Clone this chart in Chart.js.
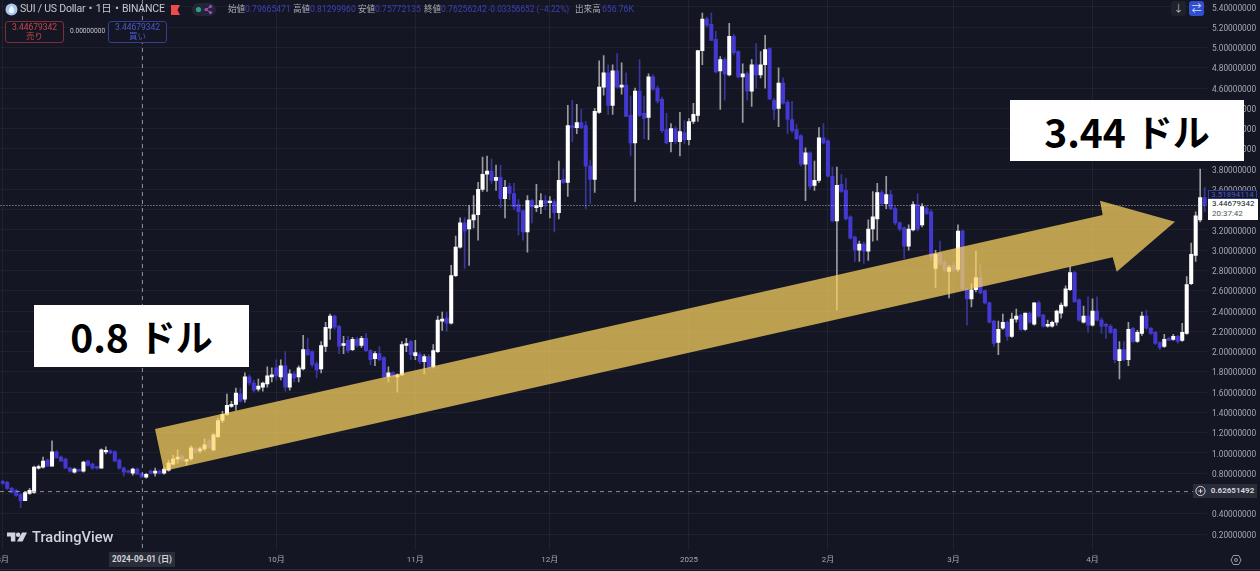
<!DOCTYPE html>
<html lang="ja">
<head>
<meta charset="UTF-8" />
<title>SUI / US Dollar</title>
<script src="https://cdn.jsdelivr.net/npm/chart.js"></script>
<style>
    html, body { margin: 0; padding: 0; background: #141723; overflow: hidden; }
    #wrap { position: relative; width: 1260px; height: 571px; font-family: Roboto, "Noto Sans CJK JP", sans-serif; }
    #chart { display: block; position: absolute; left: 0; top: 0; }
    .t { position: absolute; white-space: nowrap; line-height: 1; }
    .title { left: 20px; top: 4px; font-size: 10.5px; letter-spacing: -.2px; color: #c4c7d0; }
    .ohlc { top: 5px; font-size: 8.6px; color: #3f3fb8; }
    .ohlc.k { color: #a9acb6; }
    .order { position: absolute; top: 21px; width: 59px; height: 22px; border-radius: 3px; text-align: center; font-size: 8.5px; line-height: 9px; box-sizing: border-box; padding-top: 1px; background: #141723; }
    .order.sell { left: 5px; border: 1px solid #7e2f36; color: #c8434c; }
    .order.buy { left: 108px; border: 1px solid #33408f; color: #4a58c8; }
    .spread { left: 70px; top: 28px; font-size: 6.6px; color: #c4c7d0; }
    .note { position: absolute; background: #fff; color: #000; font-family: "Noto Sans CJK JP", sans-serif; font-weight: 700; font-size: 39px; display: flex; align-items: center; justify-content: center; }
    .note span { margin-left: 10px; font-size: 37px; }
    .tv { left: 32px; top: 530px; font-size: 14.6px; font-weight: 500; color: #d1d4dc; }
    .xlabel { position: absolute; left: 109px; top: 552px; width: 66px; height: 15px; background: #2a2e39; color: #d1d4dc; font-size: 8.2px; font-weight: 700; text-align: center; line-height: 15px; }
    .plabel { position: absolute; left: 1208px; top: 484px; width: 49px; height: 14px; background: #2a2e39; color: #d1d4dc; font-size: 8px; font-weight: 700; text-align: center; line-height: 14px; }
    .plus { position: absolute; left: 1193px; top: 484px; width: 15px; height: 14px; background: #2a2e39; }
    .last { position: absolute; left: 1208px; top: 190px; width: 49px; height: 9px; background: #141723; border: 1px solid #33408f; box-sizing: border-box; color: #4a58c8; font-size: 8px; text-align: center; line-height: 8px; }
    .now { position: absolute; left: 1208px; top: 199px; width: 50px; height: 21px; background: #fff; color: #131722; font-size: 8px; padding-left: 4px; box-sizing: border-box; line-height: 10px; }
    .now div + div { color: #50535e; }
    .btn { position: absolute; top: 1px; width: 15px; height: 15px; border-radius: 3px; color: #b2b5be; font-size: 10px; text-align: center; line-height: 15px; }
    .bottomline { position: absolute; left: 0; top: 569px; width: 1260px; height: 1px; background: #2a2e39; }
</style>
</head>
<body>
<div id="wrap">
    <canvas id="chart" width="1260" height="571"></canvas>

    <!-- header -->
    <svg style="position:absolute;left:5px;top:3px" width="13" height="13" viewBox="0 0 13 13"><circle cx="6.5" cy="6.5" r="6" fill="#a9c6ee"/><path d="M6.5 2.5 C8 4.5 9.2 6 9.2 7.6 A2.7 2.7 0 0 1 3.8 7.6 C3.8 6 5 4.5 6.5 2.5Z" fill="#f2f6fc"/></svg>
    <div class="t title">SUI / US Dollar・1日・BINANCE</div>
    <svg style="position:absolute;left:171px;top:5px" width="9" height="10" viewBox="0 0 9 10"><path d="M0 0H9L6.5 5 9 10H0Z" fill="#f04a4f"/></svg>
    <div style="position:absolute;left:192px;top:3px;width:24px;height:13px;border-radius:7px;background:#232735"></div>
    <svg style="position:absolute;left:194px;top:4px" width="20" height="11" viewBox="0 0 20 11"><circle cx="4.5" cy="5.5" r="2.6" fill="#2f9e8f"/><circle cx="12" cy="5.5" r="1.6" fill="#9c4fc4"/><circle cx="16.5" cy="2.5" r="1.6" fill="#9c4fc4"/><circle cx="16.5" cy="8.5" r="1.6" fill="#9c4fc4"/><path d="M12 5.5L16.5 2.5M12 5.5L16.5 8.5" stroke="#9c4fc4"/></svg>

    <div class="t ohlc k" style="left:228px">始値</div><div class="t ohlc" style="left:245px">0.79665471</div>
    <div class="t ohlc k" style="left:293px">高値</div><div class="t ohlc" style="left:310px">0.81299960</div>
    <div class="t ohlc k" style="left:358px">安値</div><div class="t ohlc" style="left:375px">0.75772135</div>
    <div class="t ohlc k" style="left:424px">終値</div><div class="t ohlc" style="left:441px">0.76256242</div>
    <div class="t ohlc" style="left:488px;font-size:8.3px">-0.03356652 (−4.22%)</div>
    <div class="t ohlc k" style="left:575px">出来高</div><div class="t ohlc" style="left:602px">656.76K</div>

    <div class="order sell">3.44679342<br>売り</div>
    <div class="t spread">0.00000000</div>
    <div class="order buy">3.44679342<br>買い</div>

    <div class="btn" style="left:1171px;background:#1e222d">↓</div>
    <div class="btn" style="left:1189px;background:#2f4fd0;color:#d6dcf5">⇄</div>

    <!-- notes on top of the chart -->
    <div class="note" style="left:34px;top:305px;width:215px;height:62px">0.8<span>ドル</span></div>
    <div class="note" style="left:1010px;top:100px;width:234px;height:61px">3.44<span>ドル</span></div>

    <!-- labels on the axes -->
    <div class="last">3.51894114</div>
    <div class="now"><div>3.44679342</div><div>20:37:42</div></div>
    <div class="plus"></div>
    <svg style="position:absolute;left:1194px;top:485px" width="13" height="13" viewBox="0 0 13 13"><circle cx="6.5" cy="6" r="4.6" fill="none" stroke="#d1d4dc"/><path d="M4.3 6H8.7M6.5 3.8V8.2" stroke="#d1d4dc"/></svg>
    <div class="plabel">0.62651492</div>
    <div class="xlabel">2024-09-01 (日)</div>
    <svg style="position:absolute;left:1230px;top:554px" width="12" height="12" viewBox="0 0 12 12"><path d="M3.3 1.5H8.7L11 6 8.7 10.5H3.3L1 6Z" fill="none" stroke="#9a9da8"/><circle cx="6" cy="6" r="1.5" fill="none" stroke="#9a9da8"/></svg>

    <svg style="position:absolute;left:7px;top:532px" width="20" height="10" viewBox="0 0 36 18"><path d="M0 1H15V17H7V8H0Z" fill="#d1d4dc"/><circle cx="20" cy="5" r="4" fill="#d1d4dc"/><path d="M27 1H36L28 17H18Z" fill="#d1d4dc"/></svg>
    <div class="t tv">TradingView</div>
    <div class="bottomline"></div>
</div>

<script>
    // daily candles from 2024-08-01
    const firstDay = '2024-08-01';

    const opens = [
        .72,.71,.65,.63,.59,.53,.60,.61,.85,.86,
        .93,.87,1.01,.96,.94,.85,.81,.83,.82,.92,
        .89,.86,.85,1.01,1.02,1.01,.93,.85,.82,.80,
        .84,.80,.76,.82,.80,.82,.80,.83,.89,.94,
        .97,.92,.94,1.04,1.02,1.04,1.12,1.03,1.16,1.32,
        1.38,1.46,1.48,1.58,1.53,1.75,1.69,1.63,1.65,1.68,
        1.75,1.84,1.75,1.86,1.65,1.78,1.75,1.83,2.02,2.00,
        1.88,1.83,2.05,2.23,2.35,2.25,2.06,2.11,2.02,2.12,
        2.06,2.13,2.01,1.93,1.98,1.94,1.75,1.79,1.75,1.77,
        2.06,2.10,1.96,1.97,1.90,1.95,1.85,2.00,2.30,2.33,
        2.28,2.75,3.03,3.27,3.21,3.30,3.35,3.60,3.75,3.78,
        3.69,3.72,3.51,3.63,3.56,3.45,3.39,3.18,3.49,3.42,
        3.43,3.49,3.47,3.48,3.37,3.70,3.67,4.23,4.21,4.26,
        4.23,3.83,3.70,4.36,4.61,4.75,4.43,4.77,4.61,4.63,
        4.33,4.06,4.57,4.35,4.31,4.71,4.60,4.49,4.19,4.07,
        4.20,4.07,4.16,4.09,4.27,4.33,4.97,5.28,5.23,5.08,
        4.77,4.88,4.73,5.11,4.96,4.71,4.74,4.57,4.83,4.73,
        4.83,4.99,4.48,4.40,4.65,4.46,4.29,4.19,4.13,3.85,
        3.96,3.64,3.69,4.11,4.08,3.73,3.29,3.65,3.59,3.33,
        3.13,3.00,3.06,2.99,3.21,3.31,3.57,3.46,3.55,3.41,
        3.27,3.22,3.04,3.20,3.45,3.25,3.41,3.38,2.82,2.97,
        2.88,2.79,2.85,2.81,3.19,2.61,2.52,2.61,2.73,2.60,
        2.48,2.30,2.09,2.23,2.29,2.15,2.32,2.36,2.22,2.38,
        2.27,2.48,2.36,2.25,2.25,2.29,2.38,2.45,2.61,2.78,
        2.51,2.29,2.35,2.26,2.40,2.31,2.27,2.25,2.22,1.91,
        2.02,1.92,2.23,2.10,2.18,2.35,2.23,2.19,2.09,2.05,
        2.13,2.12,2.15,2.11,2.18,2.67,2.95,3.30,3.52
    ];
    const highs = [
        .73,.72,.66,.64,.60,.62,.65,.87,.88,.96,
        .94,1.12,1.02,.97,.95,.86,.85,.84,.92,.93,
        .90,.87,1.04,1.06,1.03,1.02,.94,.86,.83,.85,
        .85,.81,.80,.83,.85,.83,.86,.93,.98,1.03,
        .98,.94,1.07,1.05,1.06,1.14,1.13,1.19,1.34,1.41,
        1.58,1.51,1.64,1.64,1.79,1.77,1.72,1.73,1.70,1.85,
        1.84,1.92,1.92,2.00,1.82,1.80,1.86,2.16,2.13,2.01,
        1.90,2.10,2.29,2.37,2.36,2.26,2.15,2.15,2.14,2.14,
        2.15,2.18,2.02,2.00,2.05,1.95,1.85,1.80,1.78,2.10,
        2.13,2.11,2.11,1.99,1.97,1.97,2.07,2.35,2.39,2.39,
        2.85,3.14,3.32,3.32,3.44,3.54,3.67,3.92,3.93,3.90,
        3.84,3.84,3.69,3.66,3.66,3.50,3.40,3.54,3.50,3.65,
        3.56,3.54,3.53,3.50,3.88,3.80,4.43,4.48,4.44,4.39,
        4.27,3.89,4.40,4.87,4.92,4.83,4.83,4.94,4.85,4.75,
        4.52,4.60,4.88,4.52,4.74,4.73,4.62,4.51,4.35,4.25,
        4.22,4.36,4.28,4.30,4.45,4.97,5.34,5.30,5.34,5.16,
        4.91,4.90,5.24,5.13,4.97,4.84,4.76,4.88,5.04,4.96,
        5.12,5.00,4.50,4.80,4.70,4.48,4.47,4.24,4.14,4.01,
        3.97,3.88,4.21,4.25,4.09,3.82,3.82,3.75,3.71,3.34,
        3.14,3.09,3.08,3.30,3.58,3.66,3.59,3.73,3.59,3.43,
        3.28,3.23,3.25,3.48,3.56,3.46,3.44,3.40,3.00,3.09,
        2.90,2.85,2.88,3.25,3.20,2.63,2.67,2.99,2.86,2.61,
        2.49,2.31,2.30,2.37,2.30,2.38,2.42,2.37,2.38,2.39,
        2.48,2.50,2.37,2.31,2.30,2.41,2.48,2.65,2.84,2.79,
        2.52,2.45,2.54,2.52,2.54,2.33,2.28,2.27,2.23,2.10,
        2.10,2.29,2.24,2.21,2.39,2.41,2.24,2.20,2.10,2.17,
        2.14,2.17,2.16,2.28,2.74,3.07,3.38,3.80,3.62
    ];
    const lows = [
        .69,.64,.61,.57,.46,.53,.59,.60,.84,.85,
        .87,.87,.95,.92,.85,.81,.80,.82,.81,.87,
        .84,.84,.85,.99,.99,.92,.84,.77,.80,.78,
        .79,.76,.75,.79,.77,.79,.79,.82,.88,.90,
        .92,.88,.93,1.00,1.00,1.02,1.05,1.02,1.15,1.30,
        1.37,1.45,1.42,1.50,1.50,1.67,1.60,1.61,1.61,1.65,
        1.70,1.72,1.72,1.61,1.62,1.70,1.70,1.82,1.96,1.85,
        1.74,1.79,2.00,2.12,2.22,1.98,1.98,1.99,2.01,2.04,
        2.04,2.00,1.87,1.86,1.91,1.74,1.70,1.75,1.60,1.76,
        2.00,1.92,1.92,1.88,1.78,1.83,1.84,1.99,2.21,2.20,
        2.27,2.74,3.02,2.82,2.85,3.22,3.10,3.58,3.58,3.66,
        3.59,3.42,3.32,3.50,3.40,3.15,3.10,2.98,3.27,3.38,
        3.36,3.40,3.32,3.18,3.31,3.66,3.53,4.07,4.15,4.20,
        3.41,3.46,3.57,4.35,4.53,4.34,4.34,4.60,4.54,4.32,
        3.93,3.48,4.32,4.10,4.09,4.58,4.45,4.16,4.05,3.97,
        4.05,3.93,4.05,4.04,4.25,4.27,4.83,5.20,5.07,4.75,
        4.39,4.48,4.72,4.93,4.70,4.26,4.48,4.42,4.60,4.70,
        4.60,4.49,4.29,4.22,4.44,4.15,4.16,4.09,3.83,3.49,
        3.60,3.59,3.67,4.05,3.72,3.28,2.41,3.57,3.30,3.11,
        2.89,2.89,2.87,2.90,3.09,3.10,3.44,3.41,3.40,3.25,
        3.19,2.92,3.00,3.19,3.19,3.23,3.35,2.90,2.63,2.85,
        2.78,2.53,2.78,2.79,2.61,2.26,2.44,2.59,2.57,2.47,
        2.28,2.05,1.97,2.22,2.11,2.14,2.29,2.21,2.21,2.28,
        2.26,2.34,2.24,2.24,2.24,2.26,2.33,2.44,2.60,2.49,
        2.30,2.28,2.19,2.25,2.30,2.18,2.13,2.18,1.89,1.73,
        1.91,1.86,2.09,2.09,2.16,2.22,2.17,2.07,2.02,2.04,
        2.11,2.11,2.08,2.10,2.17,2.66,2.89,3.28,3.38
    ];
    const closes = [
        .70,.65,.61,.58,.53,.61,.63,.86,.86,.92,
        .87,1.01,.95,.92,.85,.82,.84,.82,.91,.88,
        .85,.85,1.03,1.02,1.00,.92,.85,.81,.81,.84,
        .79,.76,.79,.80,.82,.80,.84,.90,.94,.96,
        .93,.93,1.05,1.00,1.04,1.08,1.05,1.18,1.32,1.38,
        1.47,1.48,1.59,1.51,1.75,1.69,1.62,1.66,1.69,1.76,
        1.77,1.76,1.86,1.65,1.78,1.74,1.84,2.02,1.97,1.87,
        1.82,2.06,2.24,2.35,2.24,2.05,2.08,2.01,2.12,2.06,
        2.13,2.01,1.92,1.98,1.92,1.75,1.79,1.76,1.77,2.07,
        2.08,1.97,1.99,1.90,1.95,1.85,2.01,2.31,2.32,2.28,
        2.75,3.03,3.27,3.19,3.30,3.35,3.60,3.75,3.78,3.69,
        3.72,3.51,3.62,3.56,3.43,3.38,3.18,3.49,3.43,3.44,
        3.49,3.46,3.48,3.37,3.69,3.67,4.23,4.21,4.26,4.21,
        3.83,3.70,4.37,4.61,4.75,4.43,4.77,4.61,4.63,4.32,
        4.06,4.57,4.33,4.30,4.71,4.59,4.47,4.18,4.06,4.20,
        4.07,4.17,4.09,4.27,4.34,4.97,5.28,5.22,5.07,4.76,
        4.88,4.74,5.11,4.95,4.71,4.74,4.57,4.83,4.73,4.83,
        4.98,4.49,4.39,4.65,4.45,4.29,4.18,4.10,3.85,3.96,
        3.63,3.69,4.11,4.06,3.73,3.29,3.64,3.58,3.31,3.12,
        3.00,3.06,2.99,3.21,3.33,3.57,3.46,3.55,3.41,3.27,
        3.21,3.04,3.21,3.45,3.21,3.43,3.36,2.94,2.96,2.87,
        2.81,2.83,2.80,3.19,2.62,2.52,2.61,2.73,2.58,2.48,
        2.29,2.08,2.22,2.29,2.15,2.32,2.35,2.22,2.38,2.29,
        2.48,2.35,2.25,2.27,2.29,2.40,2.46,2.62,2.78,2.49,
        2.31,2.35,2.26,2.40,2.31,2.25,2.25,2.19,1.92,2.02,
        1.92,2.22,2.10,2.19,2.35,2.23,2.18,2.08,2.04,2.12,
        2.11,2.15,2.10,2.19,2.66,2.96,3.34,3.52,3.45
    ];

    const priceTicks = [5.4,5.2,5.0,4.8,4.6,4.4,4.2,4.0,3.8,3.6,3.4,3.2,3.0,2.8,2.6,2.4,2.2,2.0,1.8,1.6,1.4,1.2,1.0,0.8,0.6,0.4,0.2];
    // 9月 stays empty: the crosshair date label sits there
    const monthDays = ['2024-08-01','2024-09-01','2024-10-01','2024-11-01','2024-12-01','2025-01-01','2025-02-01','2025-03-01','2025-04-01'];
    const monthLabels = ['8月','','10月','11月','12月','2025','2月','3月','4月'];

    const lastPrice = 3.44679342;
    const crossPrice = 0.62651492;
    const crossDay = '2024-09-01';

    const days = opens.map((_, i) => {
        const d = new Date(firstDay + 'T00:00:00Z');
        d.setUTCDate(d.getUTCDate() + i);
        return d.toISOString().slice(0, 10);
    });

    const upBody = '#ffffff', downBody = '#4338d2';
    const upWick = '#9b9ba0', downWick = '#3a3699';
    const isUp = opens.map((o, i) => closes[i] >= o);

    // lines and the big arrow that lie over the candles
    const overlay = {
        id: 'overlay',
        afterDatasetsDraw(chart) {
            const { ctx, scales: { x, y }, chartArea: area } = chart;
            ctx.save();
            ctx.lineWidth = 1;

            ctx.strokeStyle = 'rgba(225,228,235,.75)';
            ctx.setLineDash([1, 2]);
            const ly = Math.round(y.getPixelForValue(lastPrice)) + .5;
            ctx.beginPath(); ctx.moveTo(area.left, ly); ctx.lineTo(area.right, ly); ctx.stroke();

            ctx.strokeStyle = 'rgba(170,175,185,.75)';
            ctx.setLineDash([4, 4]);
            const cy = Math.round(y.getPixelForValue(crossPrice)) + .5;
            ctx.beginPath(); ctx.moveTo(0, cy); ctx.lineTo(1193, cy); ctx.stroke();
            const cx = Math.round(x.getPixelForValue(days.indexOf(crossDay))) + .5;
            ctx.beginPath(); ctx.moveTo(cx, 0); ctx.lineTo(cx, area.bottom); ctx.stroke();
            ctx.setLineDash([]);

            ctx.fillStyle = 'rgba(255,214,97,.72)';
            ctx.beginPath();
            ctx.moveTo(155, 429);
            ctx.lineTo(1102.7, 215);
            ctx.lineTo(1100, 200.7);
            ctx.lineTo(1175, 221.7);
            ctx.lineTo(1116.7, 271.7);
            ctx.lineTo(1112.7, 257.3);
            ctx.lineTo(164, 471);
            ctx.closePath();
            ctx.fill();
            ctx.restore();
        }
    };

    new Chart(document.getElementById('chart').getContext('2d'), {
        type: 'bar',
        data: {
            labels: days,
            datasets: [
                {
                    label: 'body',
                    data: opens.map((o, i) => [o, closes[i]]),
                    backgroundColor: isUp.map(u => u ? upBody : downBody),
                    barThickness: 3.4,
                    minBarLength: 1.5,
                    order: 1
                },
                {
                    label: 'wick',
                    data: lows.map((l, i) => [l, highs[i]]),
                    backgroundColor: isUp.map(u => u ? upWick : downWick),
                    barThickness: 1,
                    order: 2
                }
            ]
        },
        options: {
            responsive: false,
            animation: false,
            devicePixelRatio: 1,
            layout: { autoPadding: false, padding: { left: 0.46, top: 0, right: 0, bottom: 0 } },
            plugins: { legend: { display: false }, tooltip: { enabled: false } },
            datasets: { bar: { grouped: false, borderWidth: 0 } },
            scales: {
                x: {
                    offset: true,
                    grid: { color: 'rgba(255,255,255,.055)', offset: false, drawTicks: false },
                    border: { display: false },
                    afterBuildTicks(s) { s.ticks = monthDays.map(d => ({ value: days.indexOf(d) })); },
                    // labels may run off the edge, as they do in the screenshot
                    afterFit(s) { s.height = 21; s.paddingLeft = 0; s.paddingRight = 0; },
                    ticks: {
                        autoSkip: false,
                        maxRotation: 0,
                        padding: 5,
                        color: '#a6a9b3',
                        font: { family: 'Roboto, "Noto Sans CJK JP"', size: 8 },
                        callback: (v, i) => monthLabels[i]
                    }
                },
                y: {
                    position: 'right',
                    min: 0.0425,
                    max: 5.469,
                    grid: { color: 'rgba(255,255,255,.045)', drawTicks: false },
                    border: { display: false },
                    afterBuildTicks(s) { s.ticks = priceTicks.map(v => ({ value: v })); },
                    afterFit(s) { s.width = 53.1; s.paddingTop = 0; s.paddingBottom = 0; },
                    ticks: {
                        padding: 5,
                        labelOffset: 1.5,
                        color: '#a6a9b3',
                        font: { family: 'Roboto', size: 8.3 },
                        callback: v => Number(v).toFixed(8)
                    }
                }
            }
        },
        plugins: [overlay]
    });
</script>
</body>
</html>
